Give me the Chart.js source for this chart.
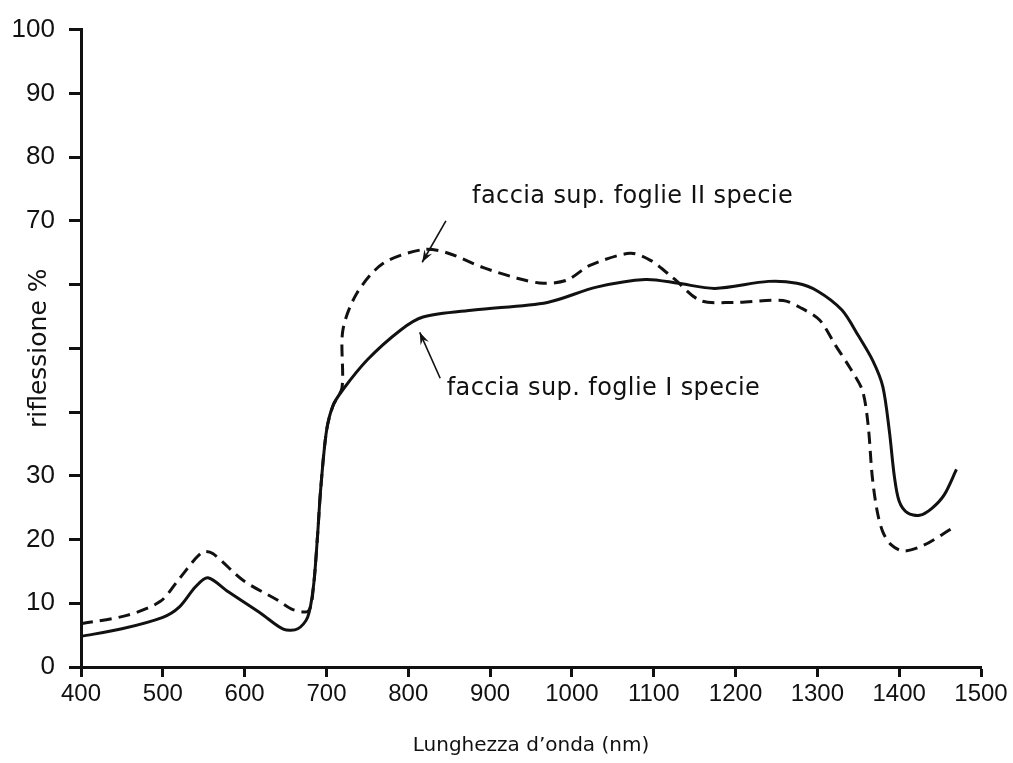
<!DOCTYPE html>
<html>
<head>
<meta charset="utf-8">
<script src="https://cdn.jsdelivr.net/npm/chart.js@4/dist/chart.umd.min.js"></script>
<style>
  html, body { margin:0; padding:0; background:#fff; }
  #c { display:block; }
</style>
</head>
<body>
<canvas id="c" width="1013" height="763"></canvas>
<script>
// -------- dati: faccia sup. foglie I specie (linea continua) --------
const wlI = [400,450,500,520,540,555,580,620,648,665,677,684,689,693,700,708,720,750,790,818,880,970,1030,1090,1130,1175,1240,1275,1300,1330,1350,1368,1380,1388,1394,1400,1410,1425,1440,1455,1470];
const rI  = [4.8,6.0,7.8,9.4,12.6,14.0,11.8,8.4,5.9,6.0,7.8,12.5,20.4,28,37,41,43.5,48.2,52.8,54.9,56.0,57.2,59.6,60.8,60.2,59.4,60.5,60.2,59,56,52,48,44,37,30,26,24.2,23.8,24.9,27,31];

// -------- dati: faccia sup. foglie II specie (tratteggio) --------
const wlII = [400,456,497,521,548,561,598,640,659,678,684,689,693,700,708,719,720,737,769,818,847,891,933,965,994,1022,1071,1096,1124,1157,1197,1258,1279,1303,1322,1340,1355,1362,1367,1373,1380,1390,1405,1430,1465];
const rII  = [6.8,8.1,10.3,14,18,17.8,13.6,10.5,9.0,8.8,12.5,20.4,28,37,41,43.8,52.8,58.6,63.3,65.5,65,62.7,61,60.2,60.7,63,64.9,63.8,61,57.5,57.2,57.5,56.4,54.4,50.5,46.9,43.4,38,30,24.5,21.2,19.2,18.2,19.1,21.8];

// -------- assi --------
const yHidden = [40,50,60];   // tacche senza etichetta

// -------- annotazioni (coordinate dati) --------
const noteText  = ['faccia sup. foglie II specie', 'faccia sup. foglie I specie'];
const noteAt    = [[878,73.8],[847,43.7]];
const arrowFrom = [[846,70],[839,45.3]];
const arrowTo   = [[817,63.5],[814,52.5]];

const ink = '#111';
const tickFont = '"Liberation Sans", Arial, sans-serif';
const textFont = '"DejaVu Sans", Verdana, sans-serif';
const pts = (xs, ys) => xs.map((x,i) => ({x:x, y:ys[i]}));

const notes = {
  id:'notes',
  afterDatasetsDraw(chart){
    const {ctx, scales:{x, y}} = chart;
    ctx.save();
    ctx.fillStyle = ink;
    ctx.strokeStyle = ink;
    ctx.font = '24px ' + textFont;
    ctx.letterSpacing = '0.4px';
    ctx.textBaseline = 'middle';
    noteText.forEach((t,i) => {
      ctx.fillText(t, x.getPixelForValue(noteAt[i][0]), y.getPixelForValue(noteAt[i][1]));
      let x0 = x.getPixelForValue(arrowFrom[i][0]), y0 = y.getPixelForValue(arrowFrom[i][1]);
      let x1 = x.getPixelForValue(arrowTo[i][0]),   y1 = y.getPixelForValue(arrowTo[i][1]);
      ctx.lineWidth = 1.6;
      ctx.beginPath(); ctx.moveTo(x0,y0); ctx.lineTo(x1,y1); ctx.stroke();
      let a = Math.atan2(y1-y0, x1-x0), h = 13;
      ctx.beginPath();
      ctx.moveTo(x1,y1);
      ctx.lineTo(x1 - h*Math.cos(a-0.35), y1 - h*Math.sin(a-0.35));
      ctx.lineTo(x1 - h*0.6*Math.cos(a), y1 - h*0.6*Math.sin(a));
      ctx.lineTo(x1 - h*Math.cos(a+0.35), y1 - h*Math.sin(a+0.35));
      ctx.closePath(); ctx.fill();
    });
    ctx.restore();
  }
};

new Chart(document.getElementById('c'), {
  type:'line',
  data:{
    datasets:[
      {label:'I specie', data:pts(wlI,rI), borderColor:ink, borderWidth:3, pointRadius:0, tension:0.3, fill:false},
      {label:'II specie', data:pts(wlII,rII), borderColor:ink, borderWidth:3, borderDash:[12,7], pointRadius:0, tension:0.3, fill:false}
    ]
  },
  options:{
    responsive:false,
    animation:false,
    layout:{padding:{top:29, right:32, left:0, bottom:0}},
    plugins:{legend:{display:false}, tooltip:{enabled:false}},
    scales:{
      x:{
        type:'linear', min:400, max:1500,
        afterFit(s){ s.height = 96; },
        ticks:{stepSize:100, color:ink, padding:3, maxRotation:0, autoSkip:false,
               callback:v => String(v),
               font:{family:tickFont, size:24}},
        grid:{drawOnChartArea:false, tickLength:10, tickWidth:3, tickColor:ink},
        border:{display:true, width:3, color:ink},
        title:{display:true, text:'Lunghezza d\u2019onda (nm)', color:ink, padding:{bottom:5},
               font:{family:textFont, size:20}}
      },
      y:{
        min:0, max:100,
        afterFit(s){ s.width = 81; },
        ticks:{stepSize:10, color:ink, padding:14,
               callback:v => yHidden.includes(v) ? '' : String(v),
               font:{family:tickFont, size:26}},
        grid:{drawOnChartArea:false, tickLength:12, tickWidth:3, tickColor:ink},
        border:{display:true, width:3, color:ink},
        title:{display:true, text:'riflessione %', color:ink, padding:{top:24},
               font:{family:textFont, size:25}}
      }
    }
  },
  plugins:[notes]
});
</script>
</body>
</html>
